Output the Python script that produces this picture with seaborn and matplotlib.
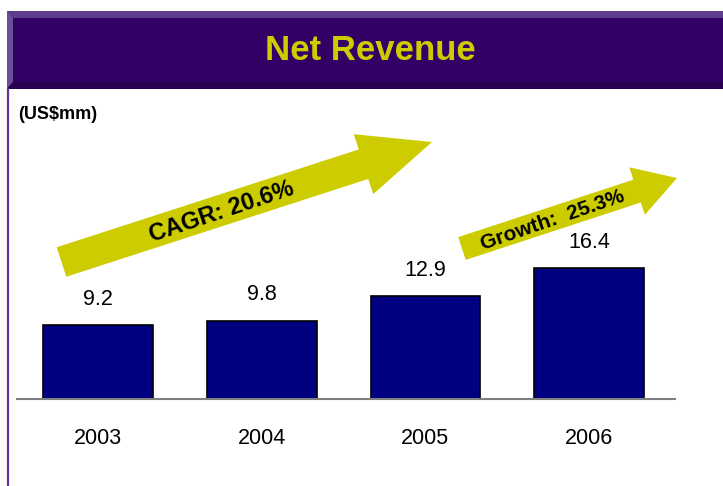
import matplotlib
matplotlib.use("Agg")
import matplotlib.pyplot as plt
import seaborn as sns
import pandas as pd
from matplotlib.patches import Polygon, FancyArrow

years = ["2003", "2004", "2005", "2006"]
revenue = [9.2, 9.8, 12.9, 16.4]
title = "Net Revenue"
unit_label = "(US$mm)"
cagr_label = "CAGR: 20.6%"
growth_label = "Growth:  25.3%"

sns.set_style("white")
plt.rcParams["font.family"] = ["Liberation Sans", "DejaVu Sans"]
plt.rcParams["text.color"] = "black"

W, H = 723, 486
fig = plt.figure(figsize=(W / 100, H / 100), dpi=100)
fig.patch.set_facecolor("white")

def fx(px):
    return px / W

def fy(py):
    return 1 - py / H

# bar chart axes
ax = fig.add_axes([fx(17), fy(399), fx(675) - fx(17), (399 - 151) / H])
df = pd.DataFrame({"year": years, "revenue": revenue})
sns.barplot(data=df, x="year", y="revenue", color="#000080", edgecolor="black",
            linewidth=1.2, width=0.67, saturation=1, ax=ax)
ax.set_xlim(-0.495, 3.525)
ax.set_ylim(0, 31)
for s in ["top", "right", "left"]:
    ax.spines[s].set_visible(False)
ax.spines["bottom"].set_color("#808080")
ax.spines["bottom"].set_linewidth(1.5)
ax.set_yticks([])
ax.set_xlabel("")
ax.set_ylabel("")
ax.tick_params(axis="x", length=0, pad=21, labelsize=15.5, labelcolor="black")
ax.set_facecolor("none")
for c in ax.containers:
    ax.bar_label(c, labels=[f"{v:.1f}" for v in revenue], padding=11, fontsize=15.5,
                 color="black")

# overlay axes in pixel coordinates
ov = fig.add_axes([0, 0, 1, 1], zorder=5)
ov.set_xlim(0, W)
ov.set_ylim(H, 0)
ov.axis("off")
ov.patch.set_alpha(0)

# header band with bevels
ov.add_patch(Polygon([(7, 11), (723, 11), (723, 89), (7, 89)], closed=True, color="#330066", lw=0))
ov.add_patch(Polygon([(7, 11), (723, 11), (723, 18), (13, 18)], closed=True, color="#5E3D8F", lw=0))
ov.add_patch(Polygon([(7, 11), (13, 18), (13, 82), (7, 89)], closed=True, color="#6B4F9A", lw=0))
ov.add_patch(Polygon([(7, 89), (13, 82), (723, 82), (723, 89)], closed=True, color="#28004F", lw=0))
ov.text(370, 51, title, color="#CCCC00", fontsize=25, fontweight="bold", ha="center", va="center")

# left border
ov.plot([8, 8], [89, 486], color="#663399", lw=1.6)

# unit label
ov.text(18, 114, unit_label, fontsize=13, fontweight="bold", ha="left", va="center",
        color="black")

# arrows
yellow = "#CCCC00"
ov.add_patch(FancyArrow(61.5, 262, 432 - 61.5, 142 - 262, width=31, head_width=63,
                        head_length=72, length_includes_head=True, color=yellow, lw=0))
ov.add_patch(FancyArrow(462, 248.5, 677 - 462, 178 - 248.5, width=24, head_width=50,
                        head_length=42, length_includes_head=True, color=yellow, lw=0))
ov.text(222, 212, cagr_label, fontsize=17, fontweight="bold", rotation=18.5,
        rotation_mode="anchor", ha="center", va="center", color="black")
ov.text(553, 220, growth_label, fontsize=15, fontweight="bold", rotation=19,
        rotation_mode="anchor", ha="center", va="center", color="black")

fig.savefig("out.png", dpi=100)
